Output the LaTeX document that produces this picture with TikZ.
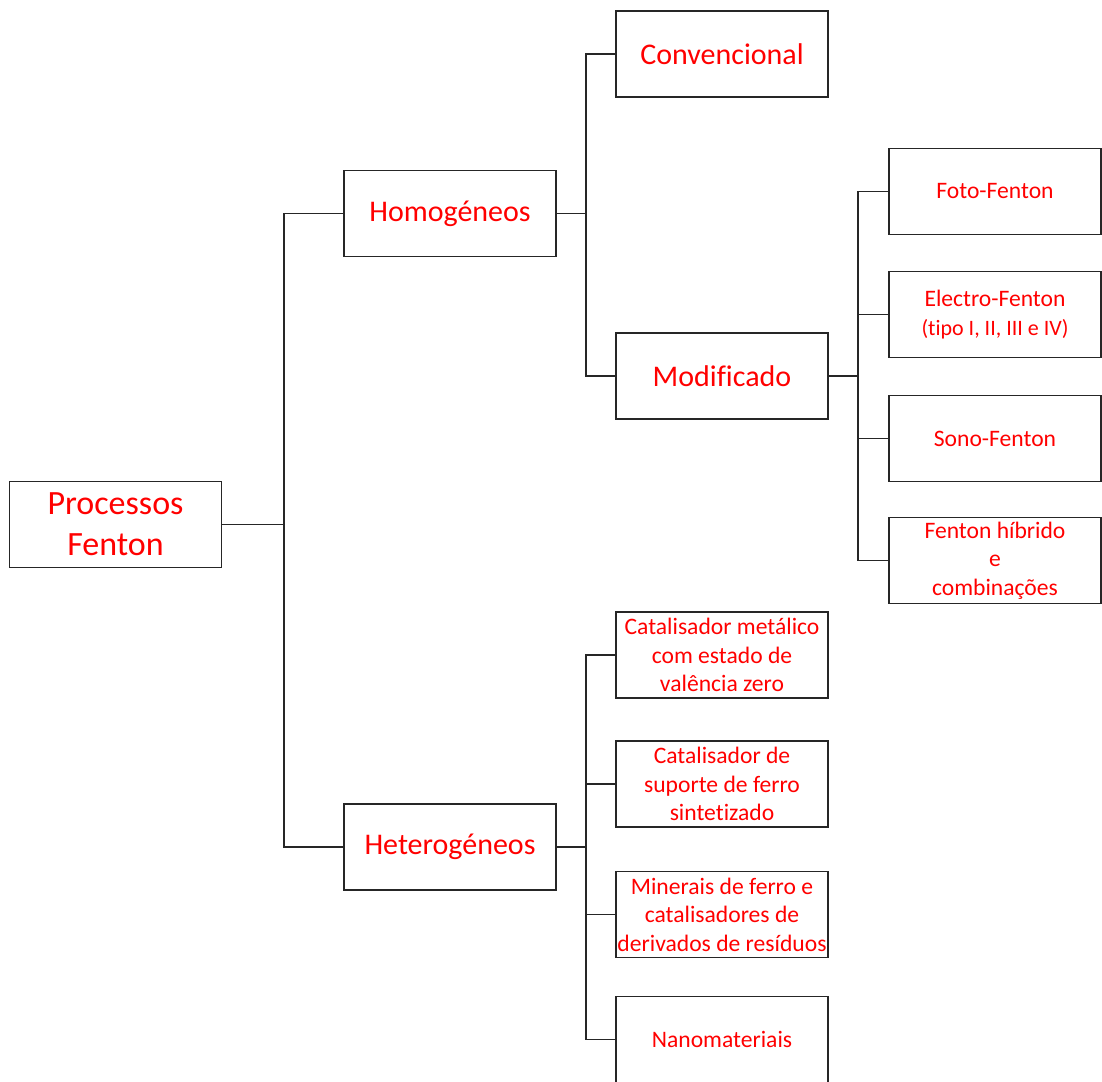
\documentclass[tikz,border=0pt]{standalone}
\usepackage{fontspec}
\setmainfont{Carlito}[Ligatures=NoCommon]
\usepackage{tikz}

\begin{document}
\begin{tikzpicture}[x=1pt,y=1pt]
          \tikzstyle{box}=[draw=black!85,line width=1.3pt,minimum width=212pt,minimum height=86pt,inner sep=0pt,align=center,text=red]
          \tikzstyle{big}=[font=\fontsize{34}{41}\selectfont]
          \tikzstyle{mid}=[font=\fontsize{30}{37}\selectfont]
          \tikzstyle{small}=[font=\fontsize{23.6}{28.5}\selectfont]
          \tikzstyle{link}=[draw=black!85,line width=1.3pt]
          \useasboundingbox (0,0) rectangle (1102,-1081);
          % main node
          \node [box,big] (proc) at (115.5,-524.5) {Processos\\Fenton};
          \node [box,mid] (homo) at (450,-213.5) {Homogéneos};
          \node [box,mid] (hetero) at (450,-847) {Heterogéneos};
          % homogeneous branch
          \node [box,mid] (conv) at (722,-54) {Convencional};
          \node [box,mid] (modif) at (722,-376) {Modificado};
          \node [box,small] (foto) at (995,-191.5) {Foto-Fenton};
          \node [box,small] (electro) at (995,-314.5) {Electro-Fenton\\{\fontsize{22}{27}\selectfont (tipo I, II, III e IV)}};
          \node [box,small] (sono) at (995,-438.5) {Sono-Fenton};
          \node [box,small] (hibrido) at (995,-560.5) {Fenton híbrido\\e\\combinações};
          % heterogeneous branch
          \node [box,small] (catmet) at (722,-655) {Catalisador metálico\\com estado de\\valência zero};
          \node [box,small] (catsup) at (722,-784) {Catalisador de\\suporte de ferro\\sintetizado};
          \node [box,small] (miner) at (722,-914.5) {Minerais de ferro e\\catalisadores de\\derivados de resíduos};
          \node [box,small] (nano) at (722,-1039.5) {Nanomateriais};
          % junctions
          \coordinate (j1) at (284,-524.5);
          \coordinate (j2) at (586,-213.5);
          \coordinate (j3) at (858,-376);
          \coordinate (j4) at (586,-847);
          \draw [link] (proc.east) -- (j1);
          \draw [link] (j1) |- (homo.west);
          \draw [link] (j1) |- (hetero.west);
          \draw [link] (homo.east) -- (j2);
          \draw [link] (j2) |- (conv.west);
          \draw [link] (j2) |- (modif.west);
          \draw [link] (modif.east) -- (j3);
          \draw [link] (j3) |- (foto.west);
          \draw [link] (j3) |- (electro.west);
          \draw [link] (j3) |- (sono.west);
          \draw [link] (j3) |- (hibrido.west);
          \draw [link] (hetero.east) -- (j4);
          \draw [link] (j4) |- (catmet.west);
          \draw [link] (j4) |- (catsup.west);
          \draw [link] (j4) |- (miner.west);
          \draw [link] (j4) |- (nano.west);
        \end{tikzpicture}
\end{document}
